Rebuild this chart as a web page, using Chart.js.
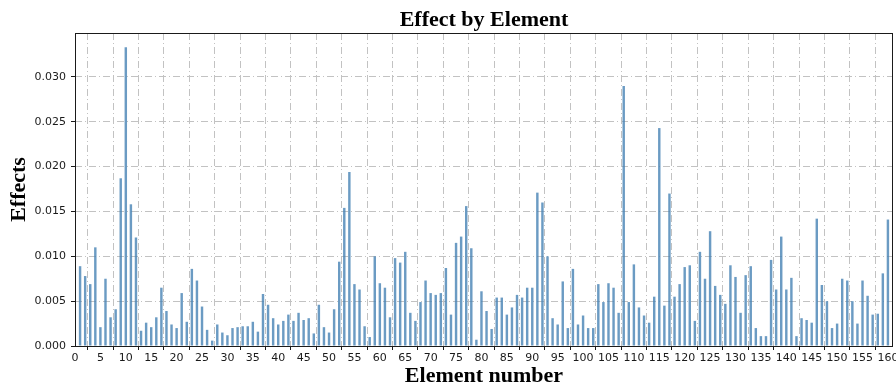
<!DOCTYPE html>
<html>
<head>
<meta charset="utf-8">
<title>Effect by Element</title>
<script src="https://cdn.jsdelivr.net/npm/chart.js@4/dist/chart.umd.min.js"></script>
<style>
  html, body { margin: 0; padding: 0; background: #fff; }
  #effectChart { display: block; }
</style>
</head>
<body>
<canvas id="effectChart" width="896" height="387"></canvas>
<script>
// element numbers 1..160 along the x axis
const elements = Array.from({length: 160}, (_, i) => i + 1);

// effect per element
const effects = [
  0.0089, 0.0078, 0.0069, 0.0110, 0.0021, 0.0075, 0.0032, 0.0041, 0.0187, 0.0333,
  0.0158, 0.0121, 0.0017, 0.0026, 0.0021, 0.0032, 0.0065, 0.0039, 0.0024, 0.0020,
  0.0059, 0.0027, 0.0086, 0.0073, 0.0044, 0.0018, 0.0006, 0.0024, 0.0015, 0.0012,
  0.0020, 0.0021, 0.0022, 0.0022, 0.0027, 0.0016, 0.0058, 0.0046, 0.0031, 0.0024,
  0.0028, 0.0035, 0.0028, 0.0037, 0.0029, 0.0031, 0.0014, 0.0046, 0.0021, 0.0015,
  0.0041, 0.0094, 0.0154, 0.0194, 0.0069, 0.0063, 0.0022, 0.0010, 0.0100, 0.0070,
  0.0065, 0.0032, 0.0098, 0.0093, 0.0105, 0.0037, 0.0028, 0.0049, 0.0073, 0.0059,
  0.0057, 0.0059, 0.0087, 0.0035, 0.0115, 0.0122, 0.0156, 0.0109, 0.0007, 0.0061,
  0.0039, 0.0019, 0.0054, 0.0054, 0.0035, 0.0043, 0.0057, 0.0054, 0.0065, 0.0065,
  0.0171, 0.0160, 0.0100, 0.0031, 0.0024, 0.0072, 0.0020, 0.0086, 0.0024, 0.0034,
  0.0020, 0.0020, 0.0069, 0.0049, 0.0070, 0.0065, 0.0037, 0.0290, 0.0049, 0.0091,
  0.0043, 0.0034, 0.0026, 0.0055, 0.0243, 0.0045, 0.0170, 0.0055, 0.0069, 0.0088,
  0.0090, 0.0028, 0.0105, 0.0075, 0.0128, 0.0067, 0.0057, 0.0047, 0.0090, 0.0077,
  0.0037, 0.0079, 0.0089, 0.0020, 0.0011, 0.0011, 0.0096, 0.0063, 0.0122, 0.0063,
  0.0076, 0.0011, 0.0031, 0.0029, 0.0026, 0.0142, 0.0068, 0.0050, 0.0020, 0.0025,
  0.0075, 0.0073, 0.0050, 0.0025, 0.0073, 0.0056, 0.0035, 0.0036, 0.0081, 0.0141
];

const xTicks = [0, 5, 10, 15, 20, 25, 30, 35, 40, 45, 50, 55, 60, 65, 70, 75, 80,
  85, 90, 95, 100, 105, 110, 115, 120, 125, 130, 135, 140, 145, 150, 155, 160];
const yTicks = [0, 0.005, 0.010, 0.015, 0.020, 0.025, 0.030];

const tickFont = {family: 'DejaVu Sans', size: 11};
const labelFont = {family: 'Liberation Serif', size: 22, weight: 'bold', lineHeight: 1};
const gridColor = '#c2c2c2';
const dashDot = [7, 3, 1, 3];

// title centred over the plot area plus a box around it
const framePlugin = {
  id: 'frame',
  afterDraw(chart) {
    const {ctx, chartArea: a} = chart;
    ctx.save();
    ctx.strokeStyle = '#1a1a1a';
    ctx.lineWidth = 1;
    ctx.strokeRect(a.left + 0.5, a.top + 0.5, a.right - a.left - 1, a.bottom - a.top);
    ctx.fillStyle = '#000';
    ctx.font = 'bold 22px "Liberation Serif"';
    ctx.textAlign = 'center';
    ctx.textBaseline = 'middle';
    ctx.fillText('Effect by Element', (a.left + a.right) / 2, 20);
    ctx.restore();
  }
};

new Chart(document.getElementById('effectChart').getContext('2d'), {
  type: 'bar',
  data: {
    datasets: [{
      label: 'Effects',
      data: elements.map((x, i) => ({x, y: effects[i]})),
      backgroundColor: 'rgba(70,130,180,0.8)',
      borderWidth: 0,
      barPercentage: 0.48,
      categoryPercentage: 1
    }]
  },
  options: {
    responsive: false,
    animation: false,
    devicePixelRatio: 1,
    layout: {padding: {top: 33, right: 3, left: 0, bottom: 0}},
    plugins: {legend: {display: false}, tooltip: {enabled: false}},
    scales: {
      x: {
        type: 'linear',
        min: 0,
        max: 161,
        offset: false,
        afterBuildTicks: s => { s.ticks = xTicks.map(v => ({value: v})); },
        // let the "160" label run past the right edge instead of shrinking the plot
        afterFit: s => { s.height = 41; s.paddingLeft = 0; s.paddingRight = 0; },
        ticks: {font: tickFont, color: '#1a1a1a', padding: 2, maxRotation: 0, autoSkip: false},
        grid: {color: gridColor, lineWidth: 1, tickColor: '#1a1a1a', tickLength: 4},
        border: {display: false, dash: dashDot},
        title: {display: true, text: 'Element number', font: labelFont, color: '#000',
                padding: {top: 0, bottom: 0}}
      },
      y: {
        min: 0,
        max: 0.0349,
        afterBuildTicks: s => { s.ticks = yTicks.map(v => ({value: v})); },
        afterFit: s => { s.width = 75; s.paddingTop = 0; s.paddingBottom = 0; },
        ticks: {font: tickFont, color: '#1a1a1a', padding: 5, callback: v => v.toFixed(3)},
        grid: {color: gridColor, lineWidth: 1, tickColor: '#1a1a1a', tickLength: 4},
        border: {display: false, dash: dashDot},
        title: {display: true, text: 'Effects', font: labelFont, color: '#000',
                padding: {top: 8, bottom: 0}}
      }
    }
  },
  plugins: [framePlugin]
});
</script>
</body>
</html>
